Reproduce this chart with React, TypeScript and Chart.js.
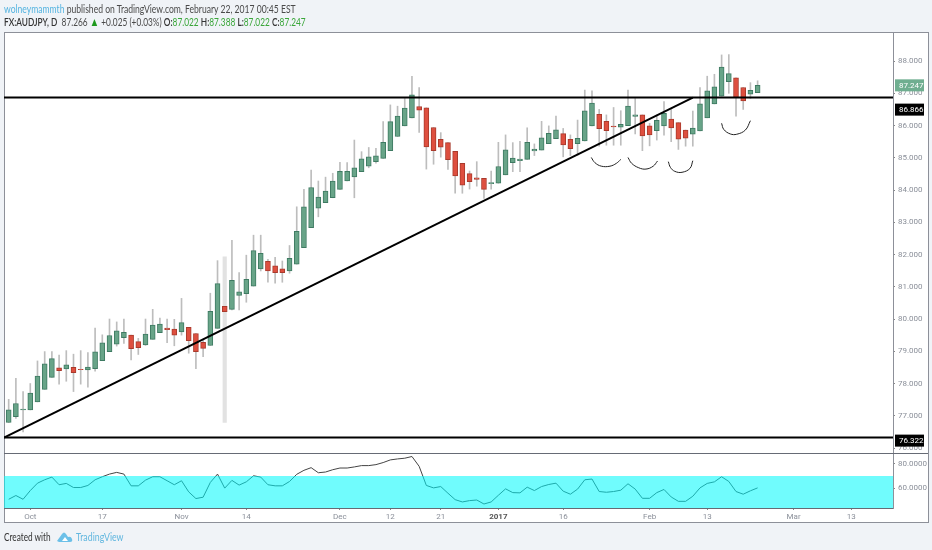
import React, { useEffect, useRef } from "react";
import { Chart, registerables } from "chart.js";

Chart.register(...registerables);

const opens = [76.79,76.97,77.18,77.18,77.43,77.82,78.19,78.49,78.45,78.5,78.44,78.42,78.46,78.71,78.99,79.22,79.42,79.5,79.3,79.2,79.37,79.58,79.72,79.69,79.6,79.74,79.55,79.28,79.18,79.71,80.39,80.3,80.73,80.79,81.02,81.55,81.79,81.65,81.56,81.49,81.7,82.21,82.83,83.44,83.61,83.76,84.02,84.28,84.41,84.57,84.74,84.88,84.98,85.22,85.66,85.99,86.24,86.59,86.55,85.94,85.57,85.47,85.2,84.83,84.51,84.38,84.36,84.2,84.21,84.47,84.85,84.91,84.95,85.21,85.24,85.44,85.59,85.75,85.57,85.44,85.52,85.99,86.35,86.13,85.98,85.95,86.0,86.28,86.33,85.99,85.84,85.99,86.2,86.09,85.86,85.73,85.83,86.24,86.67,86.91,87.36,87.48,87.18,86.97,87.022];
const highs = [77.51,78.16,77.75,78.0,78.7,78.99,78.99,78.88,79.02,78.91,79.02,78.96,79.72,79.51,80.0,79.91,80.0,79.5,79.4,80.0,80.3,80.03,80.0,79.99,80.64,79.74,79.55,79.35,80.8,81.81,81.93,82.44,81.44,81.98,82.6,82.6,81.85,81.91,81.8,82.28,83.48,84.02,84.62,84.28,84.4,84.52,84.86,84.85,85.55,85.19,85.32,85.29,86.12,86.64,86.6,86.84,87.53,87.18,86.55,85.94,85.78,85.47,85.2,84.83,84.59,84.88,84.36,84.59,85.48,85.71,85.47,85.51,85.93,85.43,86.13,85.99,86.29,85.91,85.71,86.17,87.1,87.08,86.5,86.33,86.56,86.46,87.1,86.84,86.33,86.07,86.33,86.74,86.5,86.09,85.86,86.45,87.18,87.53,87.59,88.19,88.2,87.48,87.18,87.33,87.388];
const lows = [76.79,76.92,76.5,77.18,77.43,77.82,78.19,77.98,78.07,77.75,77.98,77.89,78.38,78.71,78.99,79.16,79.24,78.73,78.9,79.18,79.37,79.58,79.27,79.17,79.5,78.94,78.46,78.83,79.18,79.71,76.79,80.28,80.28,80.52,81.02,81.49,81.14,81.11,81.14,81.42,81.7,82.21,82.83,83.17,83.61,83.76,84.02,84.28,83.76,84.57,84.69,84.83,84.98,85.22,85.66,85.99,86.24,85.79,84.65,84.8,85.02,84.64,83.9,83.9,84.03,84.12,83.74,84.03,84.21,84.47,84.57,84.57,84.95,85.07,85.24,85.44,85.59,85.03,85.07,85.08,85.52,85.99,85.36,85.39,85.39,85.39,86.0,85.74,85.22,85.37,85.55,85.7,85.5,85.26,85.36,85.36,85.83,86.24,86.67,86.91,87.0,86.29,86.5,86.84,87.022];
const closes = [77.18,77.38,77.21,77.7,78.23,78.61,78.77,78.4,78.58,78.34,78.43,78.51,78.98,79.26,79.49,79.63,79.59,79.08,79.11,79.53,79.81,79.84,79.67,79.5,79.89,79.33,78.99,79.09,80.24,81.1,80.23,81.2,80.84,81.23,82.12,82.04,81.49,81.44,81.44,81.88,82.72,83.48,84.08,83.78,83.97,84.28,84.58,84.58,84.69,84.97,85.03,85.06,85.48,86.12,86.29,86.54,86.95,86.48,85.34,85.22,85.33,84.94,84.44,84.15,84.26,84.33,84.02,84.23,84.73,85.25,84.99,84.96,85.48,85.27,85.62,85.76,85.87,85.4,85.28,85.6,86.46,86.7,85.9,85.84,85.96,86.04,86.6,86.33,85.68,85.71,86.16,86.38,85.93,85.58,85.61,85.92,86.67,87.08,87.2,87.81,87.61,86.87,86.76,87.09,87.247];
const rsiValues = [50.8,53.9,50.8,58,64.1,66.9,69.1,62.8,63.9,60.5,60.5,62.2,66.9,69.4,71.6,73,71.6,61.9,61.9,66.6,69.4,69.4,66.1,62.8,66.1,56.9,51.4,52.5,64.7,71.6,60,66.4,62.5,65.2,70.2,69.1,62.8,61.9,61.9,65.5,71.4,74.7,76.9,72.7,73.3,75.2,76.6,76.6,77.5,78.6,78.6,79.4,81.1,83.3,84.1,84.7,86.1,78,62.2,60.2,61.3,55.8,50.5,48.6,49.7,50.2,46.9,48.6,54.1,59.4,56.3,56.1,60.8,58,61.3,63,64.1,57.5,55,59.2,66.9,67.5,57.2,56.6,57.2,58.3,63.6,59.2,51.6,51.6,56.3,58.9,52.7,49.1,49.1,53.3,60.2,63.9,65.2,69.4,65.5,57.2,55,57.8,60.2];

const spikeIndex = 30;
const priceTicks = [88,87,86,85,84,83,82,81,80,79,78,77,76];
const rsiTicks = [80,60];
const dateTicks = [3,13,24,33,46,53,60,68,77,89,97,109,117];
const dateLabels = ["Oct","17","Nov","14","Dec","12","21","2017","16","Feb","13","Mar","13"];
const xRange = [-0.65,122.8];
const priceRange = [75.845,88.87];
const rsiRange = [43.6,89];
const rsiBand = 70;
const resistance = 86.866;
const support = 76.322;
const trendX = [-0.65,95];
const trendY = [76.322,86.866];
const arcs = [
  { x: [80.9,81.4,82.3,83.5,84.4,85.0], y: [85.01,84.85,84.74,84.74,84.83,84.95] },
  { x: [86.0,86.5,87.5,88.5,89.5,90.1], y: [85.01,84.83,84.69,84.65,84.74,84.9] },
  { x: [91.6,91.9,92.5,93.5,94.6,95.0], y: [84.88,84.7,84.58,84.55,84.67,84.91] },
  { x: [99.0,99.3,100.2,101.1,102.3,103.0], y: [86.07,85.88,85.74,85.73,85.86,86.15] },
];
const tags = [
  { value: 87.247, text: "87.247", bg: "#6fae90", shift: 0 },
  { value: 86.866, text: "86.866", bg: "#000000", shift: 12 },
  { value: 76.322, text: "76.322", bg: "#000000", shift: 3 },
];

const AXIS_FONT = "Roboto";
const AXIS_COLOR = "#8a8f99";
const isUp = (i: number) => closes[i] >= opens[i];

const panePlugin = {
  id: "panes",
  afterDraw(chart: any) {
    const { ctx, scales, chartArea } = chart;
    ctx.save();
    ctx.strokeStyle = "#666b75";
    ctx.lineWidth = 1;
    ctx.beginPath();
    const y = Math.round(scales.y2.top) + 0.5;
    ctx.moveTo(chartArea.left, y);
    ctx.lineTo(928, y);
    ctx.stroke();
    ctx.font = `8px ${AXIS_FONT}`;
    ctx.textBaseline = "middle";
    ctx.textAlign = "left";
    for (const t of tags) {
      const cy = scales.y.getPixelForValue(t.value) + t.shift;
      ctx.fillStyle = t.bg;
      ctx.fillRect(895, cy - 6, 29, 12);
      ctx.fillStyle = "#ffffff";
      ctx.fillText(t.text, 899, cy + 0.5);
    }
    ctx.restore();
  },
};

export default function App() {
  const ref = useRef<HTMLCanvasElement>(null);
  useEffect(() => {
    const idx = opens.map((_, i) => i);
    const hLine = (v: number) => xRange.map((x) => ({ x, y: v }));
    const base = { type: "line", pointRadius: 0, xAxisID: "x" } as any;
    const chart = new Chart(ref.current!, {
      type: "bar",
      data: {
        datasets: [
          {
            ...base,
            label: "RSI",
            yAxisID: "y2",
            data: rsiValues.map((y, x) => ({ x, y })),
            borderColor: "#444",
            borderWidth: 1,
            tension: 0,
            order: 9,
          },
          {
            ...base,
            label: "RSI band",
            yAxisID: "y2",
            data: xRange.map((x) => ({ x, y: rsiBand })),
            borderWidth: 0,
            borderColor: "transparent",
            backgroundColor: "rgba(0,250,252,0.56)",
            fill: { value: rsiRange[0] },
            order: 8,
          },
          {
            type: "bar",
            label: "Wicks",
            yAxisID: "y",
            xAxisID: "x",
            grouped: false,
            barThickness: 1,
            data: idx.filter((i) => i !== spikeIndex).map((i) => ({ x: i, y: [lows[i], highs[i]] })),
            backgroundColor: "#bdbdbd",
            order: 7,
          },
          {
            type: "bar",
            label: "Spike",
            yAxisID: "y",
            xAxisID: "x",
            grouped: false,
            barThickness: 3.5,
            data: [{ x: spikeIndex, y: [lows[spikeIndex], highs[spikeIndex]] }],
            backgroundColor: "#e2e2e2",
            order: 6,
          },
          {
            type: "bar",
            label: "Bodies",
            yAxisID: "y",
            xAxisID: "x",
            grouped: false,
            barThickness: 5,
            borderWidth: 1,
            borderSkipped: false,
            data: idx.map((i) => ({ x: i, y: [opens[i], closes[i]] })),
            backgroundColor: idx.map((i) => (isUp(i) ? "#68a488" : "#de4f3f")),
            borderColor: idx.map((i) => (isUp(i) ? "#3e7a62" : "#a93a2c")),
            order: 5,
          },
          { ...base, label: "Resistance", yAxisID: "y", data: hLine(resistance), borderColor: "#000", borderWidth: 2, order: 1 },
          { ...base, label: "Support", yAxisID: "y", data: hLine(support), borderColor: "#000", borderWidth: 2, order: 1 },
          {
            ...base,
            label: "Trend",
            yAxisID: "y",
            data: trendX.map((x, i) => ({ x, y: trendY[i] })),
            borderColor: "#000",
            borderWidth: 2,
            order: 1,
          },
          ...arcs.map((a, n) => ({
            ...base,
            label: `Arc ${n + 1}`,
            yAxisID: "y",
            data: a.x.map((x, i) => ({ x, y: a.y[i] })),
            borderColor: "#222",
            borderWidth: 1,
            tension: 0.4,
            order: 1,
          })),
        ] as any,
      },
      options: {
        responsive: false,
        animation: false,
        layout: { padding: { left: 4, top: 33, right: 4, bottom: 28 } },
        plugins: { legend: { display: false }, tooltip: { enabled: false } },
        scales: {
          x: {
            type: "linear",
            offset: false,
            min: xRange[0],
            max: xRange[1],
            afterBuildTicks: (axis: any) => {
              axis.ticks = dateTicks.map((value) => ({ value }));
            },
            afterFit: (axis: any) => {
              axis.height = 14;
            },
            grid: { display: true, drawOnChartArea: false, offset: false, tickLength: 2, tickColor: "#888", color: "#888" },
            border: { display: true, color: "#666b75" },
            ticks: {
              autoSkip: false,
              maxRotation: 0,
              padding: 2,
              color: (ctx: any) => (dateLabels[ctx.index] === "2017" ? "#555" : AXIS_COLOR),
              font: (ctx: any) => ({ family: AXIS_FONT, size: 8, weight: dateLabels[ctx.index] === "2017" ? "bold" : "normal" }),
              callback: (_v: any, i: number) => dateLabels[i],
            },
          },
          y: {
            type: "linear",
            position: "right",
            stack: "panes",
            stackWeight: 420,
            min: priceRange[0],
            max: priceRange[1],
            beginAtZero: false,
            afterBuildTicks: (axis: any) => {
              axis.ticks = priceTicks.map((value) => ({ value }));
            },
            afterFit: (axis: any) => {
              axis.width = 35;
            },
            grid: { display: true, drawOnChartArea: false, tickLength: 2, tickColor: "#888", color: "#888" },
            border: { display: true, color: "#8d9099" },
            ticks: {
              autoSkip: false,
              padding: 3,
              color: AXIS_COLOR,
              font: { family: AXIS_FONT, size: 8 },
              callback: (v: any) => Number(v).toFixed(3),
            },
          },
          y2: {
            type: "linear",
            position: "right",
            stack: "panes",
            stackWeight: 55,
            min: rsiRange[0],
            max: rsiRange[1],
            beginAtZero: false,
            afterBuildTicks: (axis: any) => {
              axis.ticks = rsiTicks.map((value) => ({ value }));
            },
            afterFit: (axis: any) => {
              axis.width = 35;
            },
            grid: { display: true, drawOnChartArea: false, tickLength: 2, tickColor: "#888", color: "#888" },
            border: { display: true, color: "#8d9099" },
            ticks: {
              autoSkip: false,
              padding: 3,
              color: AXIS_COLOR,
              font: { family: AXIS_FONT, size: 8 },
              callback: (v: any) => Number(v).toFixed(4),
            },
          },
        },
      } as any,
      plugins: [panePlugin],
    });
    return () => chart.destroy();
  }, []);

  const grey = "#4a4a4a";
  const green = "#3aa63a";
  const font = "Lato, 'Open Sans', sans-serif";
  const squeeze = (scale: number) => ({ transform: `scaleX(${scale})`, transformOrigin: "left center" });
  return (
    <div style={{ position: "absolute", left: 0, top: 0, width: 932, height: 550, overflow: "hidden", background: "#f0f3f7", fontFamily: font }}>
      <div style={{ position: "absolute", left: 4, top: 32, width: 923, height: 489, background: "#fff", border: "1px solid #8d9099" }} />
      <canvas ref={ref} width={932} height={550} style={{ position: "absolute", left: 0, top: 0, display: "block" }} />
      <div style={{ position: "absolute", left: 4, top: 2, fontSize: 11, lineHeight: "14px", color: grey, whiteSpace: "nowrap", ...squeeze(0.78) }}>
        <span style={{ color: "#55b4e0" }}>wolneymammth</span> published on TradingView.com, February 22, 2017 00:45 EST
      </div>
      <div style={{ position: "absolute", left: 4, top: 15, fontSize: 10.5, lineHeight: "14px", color: grey, whiteSpace: "nowrap", ...squeeze(0.79) }}>
        <b style={{ color: "#333", fontWeight: 600 }}>FX:AUDJPY, D</b>&nbsp; 87.266 <span style={{ color: "#1e9a1e", fontSize: 12 }}>▲</span> +0.025 (+0.03%){" "}
        <b style={{ color: "#333", fontWeight: 600 }}>O:</b><span style={{ color: green }}>87.022</span>{" "}
        <b style={{ color: "#333", fontWeight: 600 }}>H:</b><span style={{ color: green }}>87.388</span>{" "}
        <b style={{ color: "#333", fontWeight: 600 }}>L:</b><span style={{ color: green }}>87.022</span>{" "}
        <b style={{ color: "#333", fontWeight: 600 }}>C:</b><span style={{ color: green }}>87.247</span>
      </div>
      <div style={{ position: "absolute", left: 4, top: 530, fontSize: 11, lineHeight: "14px", color: "#333", whiteSpace: "nowrap", ...squeeze(0.75) }}>Created with</div>
      <svg style={{ position: "absolute", left: 57, top: 531 }} width="16" height="12" viewBox="0 0 16 12">
        <path d="M0 10 L5 3 Q7 0 9 3 L11 6 Q14 5 15 8 Q16 11 13 11 L2 11 Z" fill="#6cc0e8" />
        <path d="M5 10 L8 6 L11 10 Z" fill="#ffffff" />
      </svg>
      <div style={{ position: "absolute", left: 76, top: 530, fontSize: 11, lineHeight: "14px", color: "#62b7df", whiteSpace: "nowrap", ...squeeze(0.8) }}>TradingView</div>
    </div>
  );
}
